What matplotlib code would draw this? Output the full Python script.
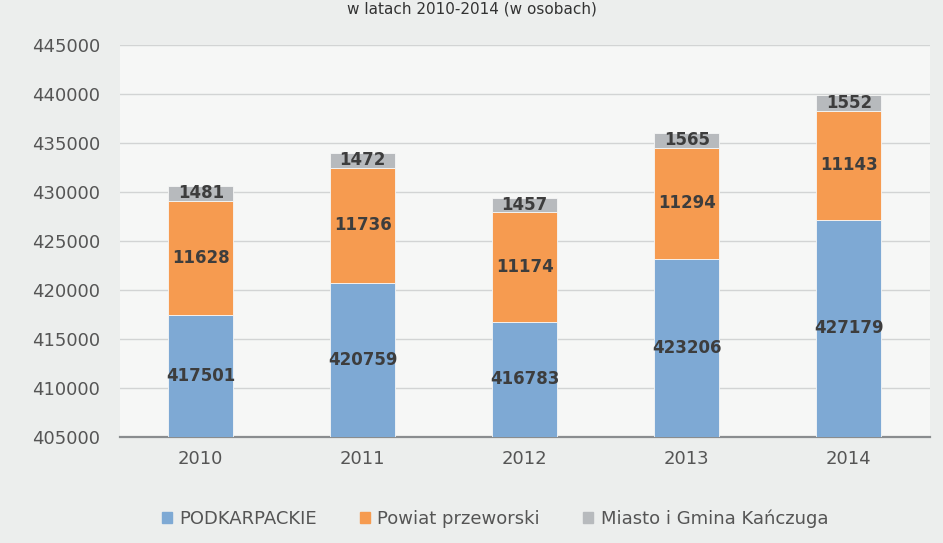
import matplotlib

matplotlib.use("Agg")

import matplotlib.pyplot as plt
import numpy as np

# Population (persons) by year, stacked
years = ["2010", "2011", "2012", "2013", "2014"]
podkarpackie = [417501, 420759, 416783, 423206, 427179]
powiat = [11628, 11736, 11174, 11294, 11143]
kanczuga = [1481, 1472, 1457, 1565, 1552]

series_names = ["PODKARPACKIE", "Powiat przeworski", "Miasto i Gmina Kańczuga"]
colors = ["#7ea9d4", "#f69b50", "#b7babd"]

y_min, y_max = 405000, 445000

fig = plt.figure(figsize=(9.43, 5.43), dpi=100, facecolor="#eceeed")
ax = fig.add_axes([0.127, 0.195, 0.859, 0.722])
ax.set_facecolor("#f6f7f6")

x = np.arange(len(years))
width = 0.4
bottoms = np.zeros(len(years))
for vals, color in zip([podkarpackie, powiat, kanczuga], colors):
    vals = np.array(vals, dtype=float)
    base = np.where(bottoms == 0, y_min, bottoms)
    heights = vals if bottoms.any() else vals - y_min
    ax.bar(x, heights, width=width, bottom=base, color=color,
           edgecolor="#f6f7f6", linewidth=0.6, zorder=3)
    # label in the middle of the visible segment
    for xi, b, h, v in zip(x, base, heights, vals):
        ax.text(xi, b + h / 2, f"{int(v)}", ha="center", va="center",
                fontsize=12, fontweight="bold", color="#3d3d3d", zorder=4)
    bottoms = base + heights

ax.set_xlim(-0.5, len(years) - 0.5)
ax.set_ylim(y_min, y_max)
ax.set_yticks(np.arange(y_min, y_max + 1, 5000))
ax.set_yticklabels([str(v) for v in range(y_min, y_max + 1, 5000)])
ax.set_xticks(x)
ax.set_xticklabels(years)
ax.tick_params(axis="both", length=0, labelsize=13, labelcolor="#555555")
ax.tick_params(axis="y", pad=14)
ax.tick_params(axis="x", pad=9)

ax.grid(axis="y", color="#d2d4d4", linewidth=1, zorder=0)
for side in ["top", "right", "left"]:
    ax.spines[side].set_visible(False)
ax.spines["bottom"].set_color("#8a8d8f")
ax.spines["bottom"].set_linewidth(1.6)

handles = [plt.Rectangle((0, 0), 1, 1, color=c) for c in colors]
fig.legend(handles, series_names, loc="center", bbox_to_anchor=(0.525, 0.045),
           ncol=3, frameon=False, fontsize=13, handlelength=0.55, handleheight=0.55,
           columnspacing=2.4, handletextpad=0.4, labelcolor="#555555")

# title (cut off at the top of the scanned page in the original)
fig.text(0.5, 0.998, "w latach 2010-2014 (w osobach)", ha="center", va="top",
         fontsize=11, color="#333333")

fig.savefig("out.png", dpi=100, facecolor=fig.get_facecolor())
